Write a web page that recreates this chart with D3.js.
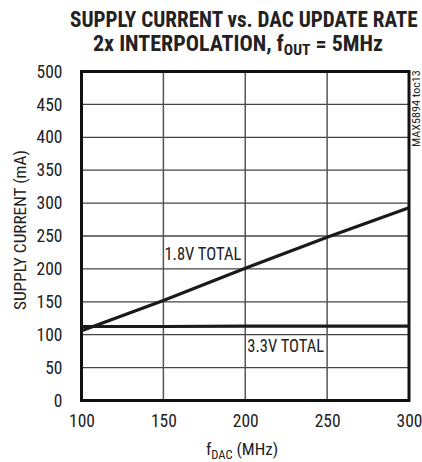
<!DOCTYPE html>
<html><head><meta charset="utf-8">
<script src="https://cdn.jsdelivr.net/npm/d3@7"></script>
<style>
body{margin:0;background:#fff;}
svg text{font-family:"Liberation Sans Narrow","Arial Narrow","Roboto Condensed","DejaVu Sans Condensed",sans-serif;fill:#222;}
</style></head>
<body><svg id="c" width="422" height="462"></svg>
<script>
const xTicks=[100,150,200,250,300];
const yTicks=[0,50,100,150,200,250,300,350,400,450,500];
const fDac=[100,150,200,250,300];
const total18=[106,152,201,248,293];
const total33=[112.5,112.5,113,113,113];

const svg=d3.select("#c");
const x=d3.scaleLinear().domain([100,300]).range([81.5,409]);
const y=d3.scaleLinear().domain([0,500]).range([400.5,71.5]);

// fit a text (anchored at its start) to a target width by horizontal scaling
function fit(sel,tx,ty,w,rot){
  const n=sel.node(); const bw=n.getComputedTextLength? n.getBBox().width : w;
  const s=w/bw;
  sel.attr("transform",`translate(${tx},${ty})${rot?` rotate(${rot})`:""} scale(${s},1)`);
}

// grid
svg.append("g").selectAll("line").data(yTicks.slice(1,-1)).join("line")
 .attr("x1",x(100)).attr("x2",x(300)).attr("y1",d=>y(d)).attr("y2",d=>y(d))
 .attr("stroke","#444").attr("stroke-width",1.3);
svg.append("g").selectAll("line").data(xTicks.slice(1,-1)).join("line")
 .attr("y1",y(0)).attr("y2",y(500)).attr("x1",d=>x(d)).attr("x2",d=>x(d))
 .attr("stroke","#555").attr("stroke-width",1.5);
// frame
svg.append("rect").attr("x",x(100)).attr("y",y(500)).attr("width",x(300)-x(100)).attr("height",y(0)-y(500))
 .attr("fill","none").attr("stroke","#111").attr("stroke-width",3);

// axes labels
const yAxis=d3.axisLeft(y).tickValues(yTicks).tickSize(0).tickPadding(19);
const gy=svg.append("g").attr("transform",`translate(${x(100)},0)`).call(yAxis);
gy.select(".domain").remove();
gy.selectAll("text").attr("font-size",17.5).attr("font-family",null).attr("fill","#222");
const xAxis=d3.axisBottom(x).tickValues(xTicks).tickSize(0).tickPadding(14);
const gx=svg.append("g").attr("transform",`translate(0,${y(0)})`).call(xAxis);
gx.select(".domain").remove();
gx.selectAll("text").attr("font-size",17.5).attr("font-family",null).attr("fill","#222");

// lines
const line=d3.line().x((d,i)=>x(fDac[i])).y(d=>y(d));
svg.append("path").datum(total18).attr("d",line).attr("fill","none").attr("stroke","#1a1a1a").attr("stroke-width",3.2);
svg.append("path").datum(total33).attr("d",line).attr("fill","none").attr("stroke","#1a1a1a").attr("stroke-width",3.2);

fit(svg.append("text").attr("font-size",17.5).text("1.8V TOTAL"), x(150)+1, 260, 77);
fit(svg.append("text").attr("font-size",17.5).text("3.3V TOTAL"), x(200)+2, 352, 77);

// titles
fit(svg.append("text").attr("font-size",22).attr("font-weight","bold").attr("fill","#111")
 .text("SUPPLY CURRENT vs. DAC UPDATE RATE"), 70, 26.5, 348);
const t2=svg.append("text").attr("font-size",22).attr("font-weight","bold").attr("fill","#111");
t2.append("tspan").text("2x INTERPOLATION, f");
t2.append("tspan").attr("font-size",15.5).attr("dy",4).text("OUT");
t2.append("tspan").attr("dy",-4).text(" = 5MHz");
fit(t2, 93, 50.5, 290);

// x title
const xt=svg.append("text").attr("x",242).attr("y",455).attr("text-anchor","middle").attr("font-size",17);
xt.append("tspan").text("f");
xt.append("tspan").attr("font-size",12.5).attr("dy",3.5).text("DAC");
xt.append("tspan").attr("dy",-3.5).text(" (MHz)");
// y title
fit(svg.append("text").attr("font-size",17).text("SUPPLY CURRENT (mA)"), 26, 310, 160, -90);
// code
fit(svg.append("text").attr("font-size",10).text("MAX5894 toc13"), 419.5, 147, 77, -90);
</script></body></html>
